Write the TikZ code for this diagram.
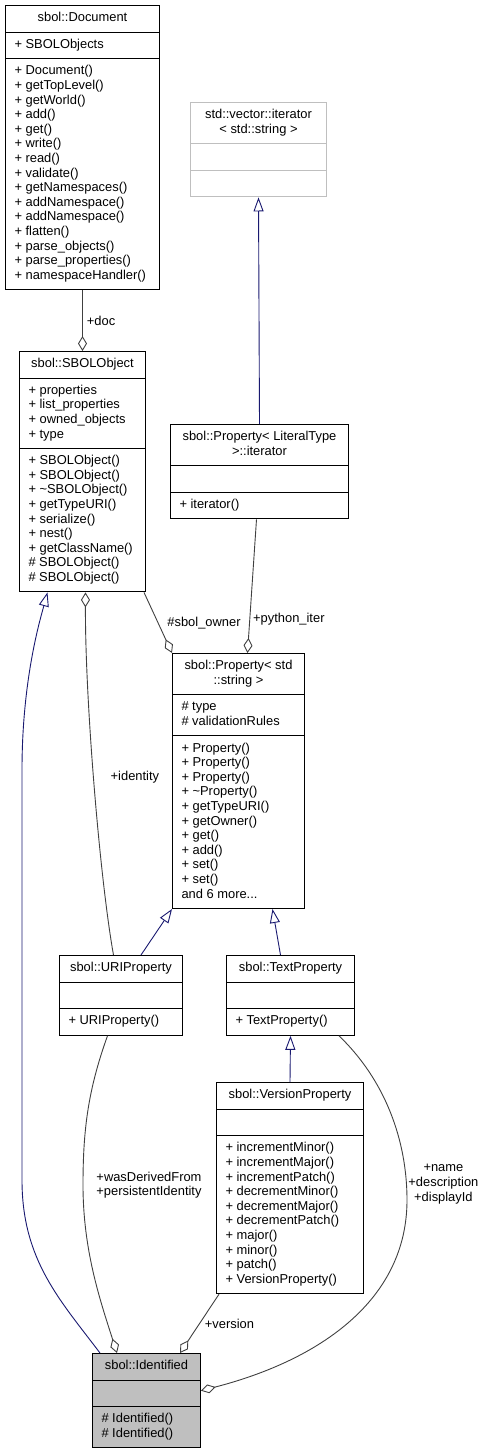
\documentclass[tikz,border=0pt]{standalone}
\usepackage{fontspec}
\setmainfont{Liberation Sans}
\usetikzlibrary{shapes.multipart,arrows.meta}

\definecolor{edgegray}{HTML}{404040}
\definecolor{navy}{HTML}{191970}
\definecolor{boxgray}{HTML}{BFBFBF}
\newcommand{\dxfont}{\fontsize{12.9}{14.6}\selectfont}
\newcommand{\twoline}[2]{\begin{tabular}{@{}c@{}}#1\\#2\end{tabular}}

\begin{document}
\begin{tikzpicture}[
    x=1pt, y=-1pt,
    cls/.style={draw=black, line width=1pt, fill=white, rectangle split, rectangle split parts=3,
        rectangle split part align={center,left,left}, align=left, font=\dxfont,
        inner xsep=9pt, inner ysep=5.5pt, anchor=north west, minimum width=#1},
    inherit/.style={draw=navy, line width=0.9pt, -{Triangle[open,length=14pt,width=10pt]}},
    aggr/.style={draw=edgegray, line width=0.9pt, -{Diamond[open,length=15pt,width=9pt]}},
    lbl/.style={font=\dxfont, inner sep=0pt}
]
\useasboundingbox (0,0) rectangle (483,1451);

% Classes
\node[cls=154pt] (doc) at (5,5) {\strut sbol::Document
  \nodepart{two}\strut + SBOLObjects
  \nodepart{three}\strut + Document()\\ + getTopLevel()\\ + getWorld()\\ + add()\\ + get()\\
  + write()\\ + read()\\ + validate()\\ + getNamespaces()\\ + addNamespace()\\ + addNamespace()\\
  + flatten()\\ + parse\_objects()\\ + parse\_properties()\\ + namespaceHandler()\strut};

\node[cls=136pt, draw=boxgray] (vec) at (190,102) {\twoline{std::vector::iterator}{< std::string >}
  \nodepart{two}\strut
  \nodepart{three}\strut};

\node[cls=126pt] (sbo) at (19,351) {\strut sbol::SBOLObject
  \nodepart{two}\strut + properties\\ + list\_properties\\ + owned\_objects\\ + type\strut
  \nodepart{three}\strut + SBOLObject()\\ + SBOLObject()\\ + \textasciitilde SBOLObject()\\ + getTypeURI()\\
  + serialize()\\ + nest()\\ + getClassName()\\ \# SBOLObject()\\ \# SBOLObject()\strut};

\node[cls=178pt] (lit) at (170,424) {\twoline{sbol::Property< LiteralType}{>::iterator}
  \nodepart{two}\strut
  \nodepart{three}\strut + iterator()};

\node[cls=132pt] (prop) at (172,653) {\twoline{sbol::Property< std}{::string >}
  \nodepart{two}\strut \# type\\ \# validationRules\strut
  \nodepart{three}\strut + Property()\\ + Property()\\ + Property()\\ + \textasciitilde Property()\\
  + getTypeURI()\\ + getOwner()\\ + get()\\ + add()\\ + set()\\ + set()\\ and 6 more...\strut};

\node[cls=123pt] (uri) at (59,955) {\strut sbol::URIProperty
  \nodepart{two}\strut
  \nodepart{three}\strut + URIProperty()};

\node[cls=128pt] (txt) at (226,955) {\strut sbol::TextProperty
  \nodepart{two}\strut
  \nodepart{three}\strut + TextProperty()};

\node[cls=147pt] (ver) at (216,1082) {\strut sbol::VersionProperty
  \nodepart{two}\strut
  \nodepart{three}\strut + incrementMinor()\\ + incrementMajor()\\ + incrementPatch()\\
  + decrementMinor()\\ + decrementMajor()\\ + decrementPatch()\\ + major()\\ + minor()\\
  + patch()\\ + VersionProperty()\strut};

\node[cls=108pt, fill=boxgray] (idf) at (92,1353) {\strut sbol::Identified
  \nodepart{two}\strut
  \nodepart{three}\strut \# Identified()\\ \# Identified()\strut};

% Inheritance
\draw[inherit] (lit.north) -- (vec.south);
\draw[inherit] ([xshift=20pt]uri.north) -- (prop.south west);
\draw[inherit] ([xshift=-10pt]txt.north) -- ([xshift=34pt]prop.south);
\draw[inherit] (ver.north) -- (txt.south);
\draw[inherit] ([xshift=8pt]idf.north west) .. controls (60,1300) and (22,1260) .. (22,1180)
  -- (22,770) .. controls (22,680) and (40,620) .. ([xshift=-35pt]sbo.south);

% Aggregation
\draw[aggr] (doc.south) -- node[lbl, right=4pt] {+doc} (sbo.north);
\draw[aggr] ([xshift=-3pt]lit.south) -- node[lbl, pos=0.75, right=3pt] {+python\_iter} ([xshift=9pt]prop.north);
\draw[aggr] ([xshift=-2pt]sbo.south east) -- node[lbl, right=9pt] {\#sbol\_owner} (prop.north west);
\draw[aggr] ([xshift=-7.5pt]uri.north) .. controls (100,880) and (85,700) ..
  node[lbl, right=16pt, yshift=9pt] {+identity} ([xshift=3pt]sbo.south);
\draw[aggr] ([xshift=-13.5pt]uri.south) .. controls (88,1090) and (83,1130) .. (83,1185)
  node[lbl, right=13pt, align=center] {+wasDerivedFrom\\+persistentIdentity}
  .. controls (83,1250) and (100,1300) .. ([xshift=25pt]idf.north west);
\draw[aggr] ([xshift=3pt]ver.south west) -- node[lbl, right=5pt] {+version} ([xshift=88pt]idf.north west);
\draw[aggr] ([xshift=-16pt]txt.south east) .. controls (385,1080) and (407,1140) .. (407,1200)
  node[lbl, right=1pt, yshift=16pt, align=center] {+name\\+description\\+displayId}
  .. controls (407,1300) and (320,1360) .. ([yshift=10pt]idf.east);

\end{tikzpicture}
\end{document}
